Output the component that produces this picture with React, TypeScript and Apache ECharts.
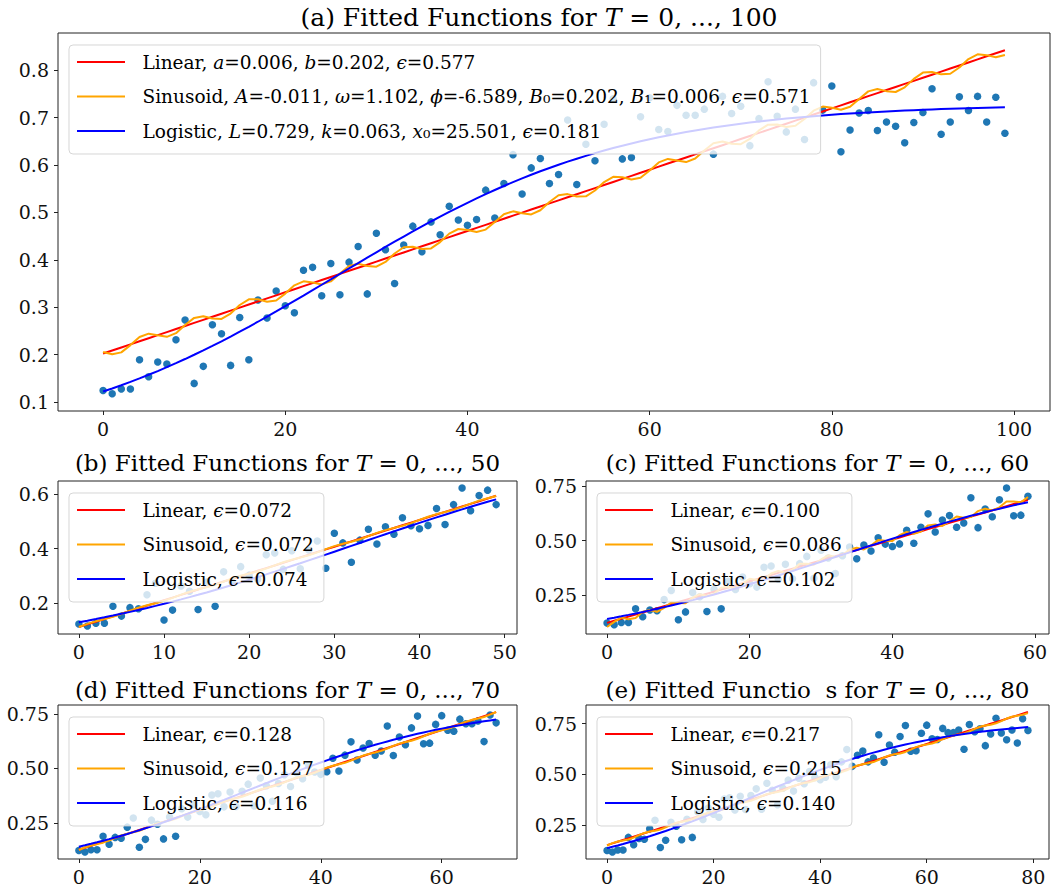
import React, { useEffect, useRef } from 'react';
import * as echarts from 'echarts';

// ---------------- DATA ----------------
const Y_VALUES = [
  0.124, 0.117, 0.127, 0.127, 0.189, 0.153, 0.184, 0.180, 0.231, 0.273,
  0.139, 0.175, 0.263, 0.244, 0.177, 0.278, 0.189, 0.315, 0.277, 0.334,
  0.303, 0.288, 0.378, 0.384, 0.324, 0.392, 0.326, 0.395, 0.428, 0.328,
  0.456, 0.421, 0.350, 0.431, 0.471, 0.417, 0.480, 0.453, 0.513, 0.484,
  0.473, 0.485, 0.547, 0.488, 0.561, 0.622, 0.539, 0.594, 0.614, 0.561,
  0.580, 0.695, 0.559, 0.644, 0.609, 0.686, 0.740, 0.613, 0.616, 0.702,
  0.742, 0.675, 0.671, 0.726, 0.705, 0.705, 0.718, 0.623, 0.745, 0.709,
  0.724, 0.641, 0.698, 0.776, 0.703, 0.670, 0.718, 0.654, 0.774, 0.716,
  0.767, 0.628, 0.674, 0.710, 0.715, 0.673, 0.691, 0.682, 0.647, 0.690,
  0.711, 0.761, 0.665, 0.691, 0.744, 0.715, 0.745, 0.691, 0.743, 0.667,
];

const PANEL_LETTERS = ['a', 'b', 'c', 'd', 'e'];
const PANEL_T = [100, 50, 60, 70, 80];

// fitted parameters (panel a from legend, others)
const LINEAR_A = [0.00647, 0.0098, 0.0095, 0.00915, 0.0083];
const LINEAR_B = [0.202, 0.113, 0.125, 0.127, 0.151];
const SIN_A = [-0.011, 0.002, 0.012, 0.003, 0.004];
const SIN_OMEGA = [1.102, 1.1, 1.7338, 1.1, 1.1];
const SIN_PHI = [-6.589, 0, -1.5708, 0, 0];
const SIN_B0 = [0.202, 0.113, 0.118, 0.126, 0.149];
const SIN_B1 = [0.00647, 0.0098, 0.0098, 0.00915, 0.0083];
const LOG_L = [0.729, 0.82, 0.85, 0.8, 0.77];
const LOG_K = [0.063, 0.052, 0.05, 0.055, 0.057];
const LOG_X0 = [25.501, 32, 32, 28, 27];

const EPS_LINEAR = ['0.577', '0.072', '0.100', '0.128', '0.217'];
const EPS_SIN = ['0.571', '0.072', '0.086', '0.127', '0.215'];
const EPS_LOG = ['0.181', '0.074', '0.102', '0.116', '0.140'];

const X_TICKS = [
  [0, 20, 40, 60, 80, 100],
  [0, 10, 20, 30, 40, 50],
  [0, 20, 40, 60],
  [0, 20, 40, 60],
  [0, 20, 40, 60, 80],
];
const Y_TICKS = [
  [0.1, 0.2, 0.3, 0.4, 0.5, 0.6, 0.7, 0.8],
  [0.2, 0.4, 0.6],
  [0.25, 0.5, 0.75],
  [0.25, 0.5, 0.75],
  [0.25, 0.5, 0.75],
];
const Y_DECIMALS = [1, 1, 2, 2, 2];

// ---------------- LAYOUT ----------------
const GRIDS = [
  { left: 58, top: 33, width: 992, height: 378 },
  { left: 58, top: 481, width: 459, height: 153 },
  { left: 586, top: 481, width: 463, height: 153 },
  { left: 58, top: 705, width: 459, height: 154 },
  { left: 586, top: 705, width: 463, height: 154 },
];
const TITLE_CENTERS = [539, 287.5, 817.5, 287.5, 817.5];
const TITLE_TOPS = [2, 448, 448, 675, 675];
const TITLE_SIZES = [25, 23, 23, 23, 23];

const FONT = '"DejaVu Serif", "Liberation Serif", serif';
const RED = '#ff0000';
const ORANGE = '#ffa500';
const BLUE = '#0000ff';
const DOT = '#1f77b4';

function linear(p: number, x: number) {
  return LINEAR_A[p] * x + LINEAR_B[p];
}
function sinusoid(p: number, x: number) {
  return SIN_A[p] * Math.sin(SIN_OMEGA[p] * x + SIN_PHI[p]) + SIN_B0[p] + SIN_B1[p] * x;
}
function logistic(p: number, x: number) {
  return LOG_L[p] / (1 + Math.exp(-LOG_K[p] * (x - LOG_X0[p])));
}

function legendLabels(p: number): Record<string, string> {
  const r: Record<string, string> = {};
  if (p === 0) {
    r[`${p}-Linear`] = `{sp| }Linear, {i|a}=0.006, {i|b}=0.202, {i|ϵ}=${EPS_LINEAR[p]}`;
    r[`${p}-Sinusoid`] = `{sp| }Sinusoid, {i|A}=-0.011, {i|ω}=1.102, {i|ϕ}=-6.589, {i|B}₀=0.202, {i|B}₁=0.006, {i|ϵ}=${EPS_SIN[p]}`;
    r[`${p}-Logistic`] = `{sp| }Logistic, {i|L}=0.729, {i|k}=0.063, {i|x}₀=25.501, {i|ϵ}=${EPS_LOG[p]}`;
  } else {
    r[`${p}-Linear`] = `{sp| }Linear, {i|ϵ}=${EPS_LINEAR[p]}`;
    r[`${p}-Sinusoid`] = `{sp| }Sinusoid, {i|ϵ}=${EPS_SIN[p]}`;
    r[`${p}-Logistic`] = `{sp| }Logistic, {i|ϵ}=${EPS_LOG[p]}`;
  }
  return r;
}

function titleText(p: number) {
  const fn = p === 4 ? 'Functio\u00A0\u00A0s' : 'Functions';
  return `(${PANEL_LETTERS[p]}) Fitted ${fn} for {i|T} = 0, ..., ${PANEL_T[p]}`;
}

function buildOption() {
  const grid: any[] = [];
  const xAxis: any[] = [];
  const yAxis: any[] = [];
  const series: any[] = [];
  const legend: any[] = [];
  const title: any[] = [];

  for (let p = 0; p < 5; p++) {
    const n = PANEL_T[p];
    const xs = Y_VALUES.slice(0, n).map((_, i) => i);
    const pts = xs.map((x) => [x, Y_VALUES[x]]);
    const lin = xs.map((x) => [x, linear(p, x)]);
    const sin = xs.map((x) => [x, sinusoid(p, x)]);
    const log = xs.map((x) => [x, logistic(p, x)]);
    const allY = [...pts, ...lin, ...sin, ...log].map((d) => d[1]);
    const lo = Math.min(...allY);
    const hi = Math.max(...allY);
    const pad = (hi - lo) * 0.05;
    const xmax = n - 1;

    const g = GRIDS[p];
    grid.push({
      left: g.left,
      top: g.top,
      width: g.width,
      height: g.height,
      show: true,
      borderColor: '#222',
      borderWidth: 1,
      backgroundColor: 'transparent',
      containLabel: false,
    });

    const labelStyle = { fontFamily: FONT, fontSize: 19, color: '#111' };
    xAxis.push({
      type: 'value',
      gridIndex: p,
      min: -xmax * 0.05,
      max: xmax * 1.05,
      axisLine: { show: false, onZero: false },
      splitLine: { show: false },
      axisTick: { show: true, length: 4, lineStyle: { color: '#222', width: 1 }, customValues: X_TICKS[p] },
      axisLabel: { ...labelStyle, margin: 8, customValues: X_TICKS[p], formatter: (v: number) => String(Math.round(v)) },
    });
    yAxis.push({
      type: 'value',
      gridIndex: p,
      min: lo - pad,
      max: hi + pad,
      axisLine: { show: false, onZero: false },
      splitLine: { show: false },
      axisTick: { show: true, length: 4, lineStyle: { color: '#222', width: 1 }, customValues: Y_TICKS[p] },
      axisLabel: { ...labelStyle, margin: 9, customValues: Y_TICKS[p], formatter: (v: number) => v.toFixed(Y_DECIMALS[p]) },
    });

    series.push({
      type: 'scatter',
      name: `${p}-points`,
      xAxisIndex: p,
      yAxisIndex: p,
      data: pts,
      symbolSize: 7.5,
      itemStyle: { color: DOT, opacity: 1 },
      silent: true,
      z: 2,
    });
    const lines: [string, number[][], string][] = [
      ['Linear', lin, RED],
      ['Sinusoid', sin, ORANGE],
      ['Logistic', log, BLUE],
    ];
    for (const [nm, data, col] of lines) {
      series.push({
        type: 'line',
        name: `${p}-${nm}`,
        xAxisIndex: p,
        yAxisIndex: p,
        data,
        showSymbol: false,
        symbol: 'none',
        lineStyle: { color: col, width: 2 },
        itemStyle: { color: col },
        silent: true,
        z: 3,
      });
    }

    const labels = legendLabels(p);
    legend.push({
      show: true,
      orient: 'vertical',
      align: 'left',
      left: g.left + 11,
      top: g.top + 12,
      data: lines.map(([nm, , col]) => ({
        name: `${p}-${nm}`,
        itemStyle: { color: col, borderWidth: 0 },
      })),
      icon: 'rect',
      itemWidth: 48,
      itemHeight: 2,
      itemGap: 12.5,
      padding: [6, 10, 12, 8],
      backgroundColor: 'rgba(255,255,255,0.8)',
      borderColor: 'rgba(204,204,204,0.8)',
      borderWidth: 1,
      borderRadius: 4,
      selectedMode: false,
      z: 10,
      formatter: (name: string) => labels[name] || name,
      textStyle: {
        fontFamily: FONT,
        fontSize: 18.5,
        lineHeight: 22,
        color: '#000',
        rich: {
          i: { fontFamily: FONT, fontSize: 18.5, lineHeight: 22, fontStyle: 'italic', color: '#000' },
          sp: { width: 12.5, fontSize: 18.5, lineHeight: 22 },
        },
      },
    });

    const fs = TITLE_SIZES[p];
    title.push({
      text: titleText(p),
      left: TITLE_CENTERS[p],
      top: TITLE_TOPS[p],
      textAlign: 'center',
      padding: 0,
      textStyle: {
        fontFamily: FONT,
        fontSize: fs,
        fontWeight: 'normal',
        color: '#000',
        lineHeight: Math.round(fs * 1.25),
        rich: {
          i: { fontFamily: FONT, fontSize: fs, fontStyle: 'italic', color: '#000', lineHeight: Math.round(fs * 1.25) },
        },
      },
    });
  }

  return {
    animation: false,
    backgroundColor: '#ffffff',
    title,
    legend,
    grid,
    xAxis,
    yAxis,
    series,
  };
}

export default function App() {
  const ref = useRef<HTMLDivElement>(null);
  useEffect(() => {
    if (!ref.current) return;
    const chart = echarts.init(ref.current, undefined, { renderer: 'svg' });
    chart.setOption(buildOption() as any);
    return () => chart.dispose();
  }, []);
  return (
    <div
      ref={ref}
      style={{ position: 'absolute', left: 0, top: 0, width: 1051, height: 891, background: '#fff' }}
    />
  );
}
